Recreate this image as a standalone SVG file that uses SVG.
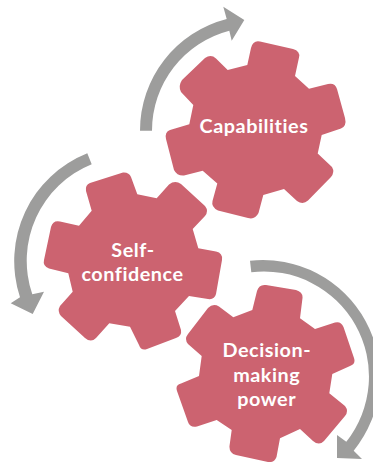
<svg xmlns="http://www.w3.org/2000/svg" width="373" height="462" viewBox="0 0 373 462">
<style>
.gear{fill:#CC6370}
.arrow{fill:#9D9D9C}
text{font-family:"Lato","Open Sans","Liberation Sans",sans-serif;font-weight:700;font-size:19.8px;letter-spacing:.55px;fill:#fff;text-anchor:middle}
</style>
<rect width="373" height="462" fill="#fff"/>
<g id="connectors">
<path class="arrow" d="M140,130.7A115.3,115.3 0 0 1 226.7,19L223.3,6.7L244.3,20L231.7,40.7L229.3,30.7A103.3,103.3 0 0 0 152,130.7Z"/>
<path class="arrow" d="M87.3,153.3A116,116 0 0 0 20,297.3L10.7,303.3L32.7,314L44,291.7L32.3,294.3A104,104 0 0 1 91.7,164.3Z"/>
<path class="arrow" d="M250,260.7A117,117 0 0 1 353.7,450.7L362,459L337,458L337,435L346.3,441.7A105,105 0 0 0 251.3,272.3Z"/>
</g>
<g id="capabilities">
<path class="gear" d="M227.7,70L247.3,65L251,48Q253,40 260,41.5L293,49Q300.5,51 299,57.5L295,76L309,88.7L328,84Q335,82.5 337,89L345,118Q347,126 341,128.5L321.7,135L317.7,153.5L332,167Q335,172 331,177L308,200.5Q303,205 297,201L284,189L263.3,195L258.5,213Q255,220 248,218L218,210.5Q211,207 212.5,201L217.3,183.5L202.7,170.7L184,175.5Q177,176 174,170L166,139Q164.5,132 170,130L189.3,124.3L193.3,105L181,92Q178,86 182,80L205,58Q211,54 216,58.5Z"/>
<text x="254" y="132.7">Capabilities</text>
</g>
<g id="self-confidence">
<path class="gear" d="M137.3,194.3L156.7,198.3L169,184.5Q175,180 181,184L205,206Q209,211 205,216L192.7,229L198.3,248.3L216,251.5Q223,253 222,260L216,294Q214.5,300 208,299L189,296L175,311L181,330Q182,336 176,338L147,349Q141,351 139,345L130,326.7L109.3,323.3L96,338Q91,343 85,338L61,316Q57,311 60,306L72.7,291.7L68.3,273.3L49,268.5Q42.5,266 44,260L51,227Q53,220 60,221.5L79,225.7L91.7,210.7L86,191Q85,185 90,183L123,172.5Q129,172 131,177Z"/>
<text x="133" y="256.7">Self-</text>
<text x="132.5" y="280.7">confidence</text>
</g>
<g id="decision-making-power">
<path class="gear" d="M252.3,310L257,291Q259,284 266,285L296,290Q303,292 302.5,298L300,318.3L315,329L335,322.5Q341,321 343.5,327L354,358Q356,364 350,366L332.3,374L329.3,393.3L345,406Q349,411 345,416L324,441Q319,446 313,441L300,429L280,438.3L276.5,457Q274,463 268,462L236,455Q229,453 229.5,446L231.7,430L216.7,420L197,426.5Q190,428 188,422L177,391Q175,385 181,383.5L199,376L201.7,356L188,344Q184,339 188,334L208,308Q213,303 219,306.5L233.3,317.3Z"/>
<text x="266.8" y="357.3">Decision-</text>
<text x="266.7" y="381.7">making</text>
<text x="266.7" y="406">power</text>
</g>
</svg>
